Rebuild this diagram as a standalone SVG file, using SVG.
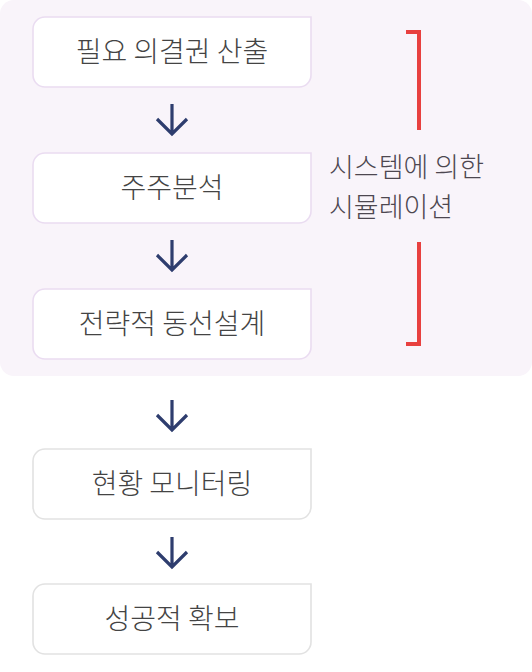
<svg xmlns="http://www.w3.org/2000/svg" width="532" height="672" viewBox="0 0 532 672">
<style>
.box{fill:#ffffff;stroke-width:1.6}
.top{stroke:#eadcf1}
.bot{stroke:#e2e2e2}
.lbl{font-family:"Noto Sans CJK KR","Noto Sans",sans-serif;font-size:28px;font-weight:300;fill:#444444;text-anchor:middle}
.side{font-family:"Noto Sans CJK KR","Noto Sans",sans-serif;font-size:27px;font-weight:300;fill:#4d4750}
.arr{fill:none;stroke:#2e3d6e;stroke-width:3.2}
.brk{fill:none;stroke:#e8403f;stroke-width:4}
</style>
<defs>
<path id="shape" d="M45,0 H311 V58 A12,12 0 0 1 299,70 H45 A12,12 0 0 1 33,58 V12 A12,12 0 0 1 45,0 Z"/>
</defs>
<rect x="0" y="0" width="532" height="376" rx="14" fill="#f9f4fa"/>
<g id="n1" transform="translate(0,17)"><use href="#shape" class="box top"/><text class="lbl" x="172" y="45">필요 의결권 산출</text></g>
<g id="n2" transform="translate(0,153)"><use href="#shape" class="box top"/><text class="lbl" x="172" y="45">주주분석</text></g>
<g id="n3" transform="translate(0,289)"><use href="#shape" class="box top"/><text class="lbl" x="172" y="45">전략적 동선설계</text></g>
<g id="n4" transform="translate(0,449)"><use href="#shape" class="box bot"/><text class="lbl" x="172" y="45">현황 모니터링</text></g>
<g id="n5" transform="translate(0,584)"><use href="#shape" class="box bot"/><text class="lbl" x="172" y="45">성공적 확보</text></g>
<g id="connectors">
<path class="arr" d="M172,104 V133 M157,119 L172,134 L187,119"/>
<path class="arr" d="M172,240 V269 M157,255 L172,270 L187,255"/>
<path class="arr" d="M172,400 V429 M157,415 L172,430 L187,415"/>
<path class="arr" d="M172,537 V566 M157,552 L172,567 L187,552"/>
</g>
<g id="bracket">
<path class="brk" d="M406,32 H419 V130"/>
<path class="brk" d="M419,242 V344 H406"/>
<text class="side" x="329" y="177">시스템에 의한</text>
<text class="side" x="329" y="217">시뮬레이션</text>
</g>
</svg>
